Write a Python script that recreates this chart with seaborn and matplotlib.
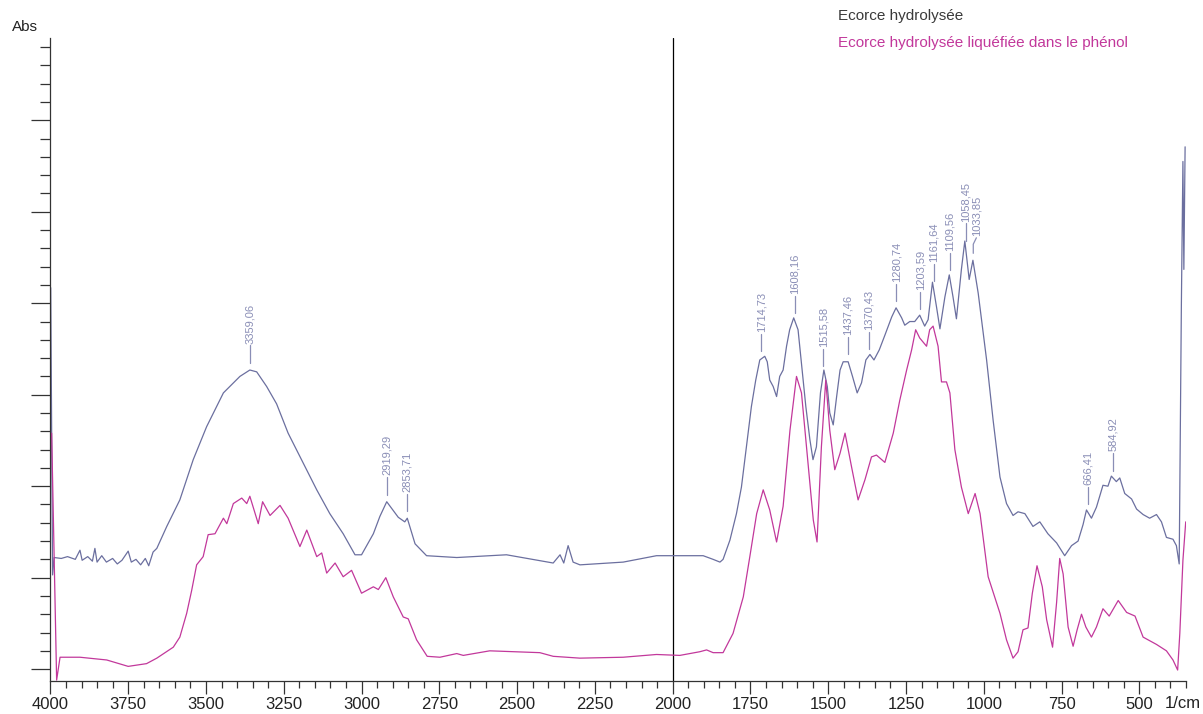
import numpy as np
import pandas as pd
import seaborn as sns
import matplotlib.pyplot as plt
from matplotlib.ticker import MultipleLocator, NullFormatter

# spectrum 1 : Ecorce hydrolysée
wn_hydro = [3999, 3993, 3988, 3965, 3945, 3920, 3905, 3898, 3880, 3865, 3857, 3850, 3835, 3820,
            3800, 3785, 3770, 3750, 3740, 3725, 3710, 3695, 3684, 3670, 3658, 3626, 3584, 3541,
            3498, 3444, 3391, 3359, 3337, 3305, 3273, 3236, 3187, 3144, 3102, 3059, 3021, 3000,
            2962, 2941, 2919, 2882, 2861, 2853, 2828, 2791, 2694, 2534, 2384, 2362, 2350, 2336,
            2320, 2298, 2159, 2052, 1977, 1934, 1902, 1870, 1848, 1838, 1816, 1795, 1779, 1763,
            1747, 1733, 1720, 1704, 1696, 1688, 1677, 1666, 1656, 1645, 1634, 1624, 1611, 1597,
            1586, 1572, 1559, 1549, 1538, 1525, 1514, 1503, 1495, 1484, 1473, 1462, 1452, 1436,
            1422, 1407, 1393, 1379, 1366, 1353, 1336, 1318, 1296, 1282, 1264, 1254, 1238, 1222,
            1206, 1190, 1179, 1165, 1152, 1141, 1125, 1111, 1099, 1088, 1072, 1061, 1047, 1035,
            1018, 991, 970, 948, 927, 906, 890, 868, 842, 820, 794, 766, 740, 718, 697, 681, 670,
            654, 638, 617, 601, 590, 574, 563, 547, 525, 509, 488, 467, 445, 429, 413, 392, 381,
            372, 365, 360, 357, 353]
abs_hydro = [0.417, 0.103, 0.122, 0.121, 0.123, 0.120, 0.130, 0.119, 0.123, 0.118, 0.132, 0.117,
             0.124, 0.117, 0.121, 0.115, 0.119, 0.129, 0.117, 0.120, 0.114, 0.121, 0.113, 0.128,
             0.132, 0.156, 0.185, 0.229, 0.265, 0.302, 0.320, 0.327, 0.325, 0.309, 0.290, 0.258,
             0.225, 0.196, 0.170, 0.148, 0.125, 0.125, 0.148, 0.167, 0.183, 0.166, 0.161, 0.165,
             0.137, 0.124, 0.122, 0.125, 0.116, 0.125, 0.116, 0.135, 0.117, 0.114, 0.117, 0.124,
             0.124, 0.124, 0.124, 0.120, 0.117, 0.120, 0.141, 0.170, 0.199, 0.243, 0.287, 0.316,
             0.338, 0.342, 0.336, 0.316, 0.309, 0.298, 0.320, 0.327, 0.353, 0.371, 0.384, 0.371,
             0.334, 0.287, 0.251, 0.229, 0.243, 0.302, 0.327, 0.309, 0.280, 0.267, 0.298, 0.327,
             0.336, 0.336, 0.320, 0.302, 0.313, 0.338, 0.344, 0.338, 0.349, 0.365, 0.385, 0.395,
             0.384, 0.376, 0.380, 0.380, 0.387, 0.375, 0.382, 0.423, 0.396, 0.372, 0.407, 0.431,
             0.407, 0.383, 0.437, 0.468, 0.426, 0.447, 0.411, 0.338, 0.272, 0.210, 0.181, 0.168,
             0.172, 0.170, 0.156, 0.161, 0.148, 0.138, 0.124, 0.135, 0.140, 0.158, 0.174, 0.165,
             0.177, 0.201, 0.200, 0.211, 0.205, 0.209, 0.192, 0.186, 0.175, 0.169, 0.165, 0.169,
             0.161, 0.144, 0.142, 0.135, 0.115, 0.398, 0.555, 0.437, 0.571]

# spectrum 2 : Ecorce hydrolysée liquéfiée dans le phénol
wn_phenol = [3996, 3980, 3969, 3905, 3819, 3750, 3691, 3658, 3605, 3584, 3562, 3546, 3530, 3509,
             3493, 3471, 3444, 3433, 3412, 3385, 3369, 3359, 3332, 3318, 3294, 3262, 3236, 3198,
             3176, 3144, 3128, 3112, 3085, 3059, 3032, 3000, 2962, 2946, 2922, 2898, 2866, 2850,
             2823, 2789, 2748, 2694, 2673, 2588, 2427, 2384, 2298, 2159, 2052, 1977, 1913, 1891,
             1870, 1838, 1806, 1773, 1752, 1730, 1709, 1688, 1666, 1645, 1623, 1602, 1586, 1570,
             1548, 1536, 1522, 1508, 1495, 1479, 1462, 1446, 1425, 1404, 1382, 1361, 1345, 1318,
             1291, 1270, 1248, 1232, 1219, 1206, 1184, 1174, 1163, 1147, 1136, 1120, 1109, 1093,
             1072, 1050, 1028, 1012, 986, 948, 927, 906, 890, 874, 858, 844, 829, 812, 798, 779,
             766, 756, 745, 729, 713, 700, 686, 672, 654, 638, 617, 597, 568, 541, 514, 488, 445,
             413, 392, 377, 370, 360, 351]
abs_phenol = [0.258, -0.012, 0.013, 0.013, 0.010, 0.003, 0.006, 0.012, 0.024, 0.035, 0.061, 0.086,
              0.114, 0.123, 0.147, 0.148, 0.165, 0.159, 0.181, 0.187, 0.181, 0.189, 0.159, 0.183,
              0.168, 0.179, 0.165, 0.134, 0.152, 0.123, 0.127, 0.105, 0.116, 0.101, 0.108, 0.083,
              0.090, 0.087, 0.100, 0.079, 0.057, 0.055, 0.032, 0.014, 0.013, 0.017, 0.015, 0.020,
              0.018, 0.014, 0.012, 0.013, 0.016, 0.015, 0.019, 0.021, 0.018, 0.018, 0.039, 0.079,
              0.123, 0.170, 0.196, 0.174, 0.139, 0.178, 0.261, 0.320, 0.302, 0.243, 0.163, 0.139,
              0.243, 0.316, 0.261, 0.218, 0.236, 0.258, 0.221, 0.185, 0.207, 0.232, 0.234, 0.226,
              0.258, 0.294, 0.327, 0.349, 0.371, 0.362, 0.353, 0.371, 0.375, 0.353, 0.314, 0.314,
              0.302, 0.240, 0.199, 0.170, 0.192, 0.170, 0.101, 0.061, 0.032, 0.012, 0.019, 0.043,
              0.045, 0.083, 0.113, 0.090, 0.054, 0.024, 0.073, 0.121, 0.104, 0.046, 0.025, 0.043,
              0.060, 0.046, 0.035, 0.046, 0.066, 0.058, 0.075, 0.062, 0.058, 0.035, 0.027, 0.020,
              0.010, -0.001, 0.039, 0.119, 0.161]

peak_wn = [3359.06, 2919.29, 2853.71, 1714.73, 1608.16, 1515.58, 1437.46, 1370.43, 1280.74,
           1203.59, 1161.64, 1109.56, 1058.45, 1033.85, 666.41, 584.92]
peak_labels = ["3359,06", "2919,29", "2853,71", "1714,73", "1608,16", "1515,58", "1437,46",
               "1370,43", "1280,74", "1203,59", "1161,64", "1109,56", "1058,45", "1033,85",
               "666,41", "584,92"]

names = ["Ecorce hydrolysée", "Ecorce hydrolysée liquéfiée dans le phénol"]
c_hydro = "#6b6f9f"
c_phenol = "#c2389b"
c_label = "#8a8eb6"

sns.set_theme(style="ticks")
plt.rcParams["font.family"] = ["Liberation Sans", "DejaVu Sans"]

df_h = pd.DataFrame({"wn": wn_hydro, "abs": abs_hydro})
df_p = pd.DataFrame({"wn": wn_phenol, "abs": abs_phenol})

fig = plt.figure(figsize=(12.03, 7.14), dpi=100)
ax = fig.add_axes([0.0419, 0.0462, 0.9440, 0.9006])

sns.lineplot(data=df_h, x="wn", y="abs", sort=False, estimator=None, color=c_hydro, lw=0.9, ax=ax)
sns.lineplot(data=df_p, x="wn", y="abs", sort=False, estimator=None, color=c_phenol, lw=0.9, ax=ax)

ax.set_xlim(4000, 350)
ax.set_ylim(-0.013, 0.690)
ax.axvline(2000, color="black", lw=0.9, zorder=0)

# peak picks on the first spectrum
peak_h = np.interp(peak_wn, wn_hydro[::-1], abs_hydro[::-1])
for w, h, lab in zip(peak_wn, peak_h, peak_labels):
    tx = w - 10 if lab == "1033,85" else w
    if tx != w:
        ax.plot([w, w, tx], [h + 0.010, h + 0.020, h + 0.027], color=c_label, lw=0.9)
    else:
        ax.plot([w, w], [h + 0.008, h + 0.027], color=c_label, lw=0.9)
    ax.text(tx, h + 0.029, lab, rotation=90, ha="center", va="bottom",
            fontsize=8, color=c_label)

ax.xaxis.set_major_locator(MultipleLocator(250))
ax.xaxis.set_minor_locator(MultipleLocator(50))
ax.yaxis.set_major_locator(MultipleLocator(0.1))
ax.yaxis.set_minor_locator(MultipleLocator(0.02))
ax.yaxis.set_major_formatter(NullFormatter())
ax.set_xlabel("")
ax.set_ylabel("")
ax.tick_params(axis="x", which="major", length=9.5, width=0.9, color="#333333",
               labelsize=12, labelcolor="#222222", pad=2)
ax.tick_params(axis="x", which="minor", length=5, width=0.9, color="#333333")
ax.tick_params(axis="y", which="major", length=14, width=0.9, color="#333333")
ax.tick_params(axis="y", which="minor", length=7.5, width=0.9, color="#333333")

sns.despine(ax=ax)
for s in ["left", "bottom"]:
    ax.spines[s].set_color("#333333")
    ax.spines[s].set_linewidth(0.9)

fig.text(25 / 1203, 1 - 27 / 714, "Abs", ha="center", va="center", fontsize=11, color="#222222")
fig.text(1183 / 1203, 1 - 704 / 714, "1/cm", ha="center", va="center", fontsize=12, color="#222222")
fig.text(838 / 1203, 1 - 16 / 714, names[0], ha="left", va="center", fontsize=11, color="#3a3a3a")
fig.text(838 / 1203, 1 - 43 / 714, names[1], ha="left", va="center", fontsize=11, color=c_phenol)

plt.savefig("out.png", dpi=100)
